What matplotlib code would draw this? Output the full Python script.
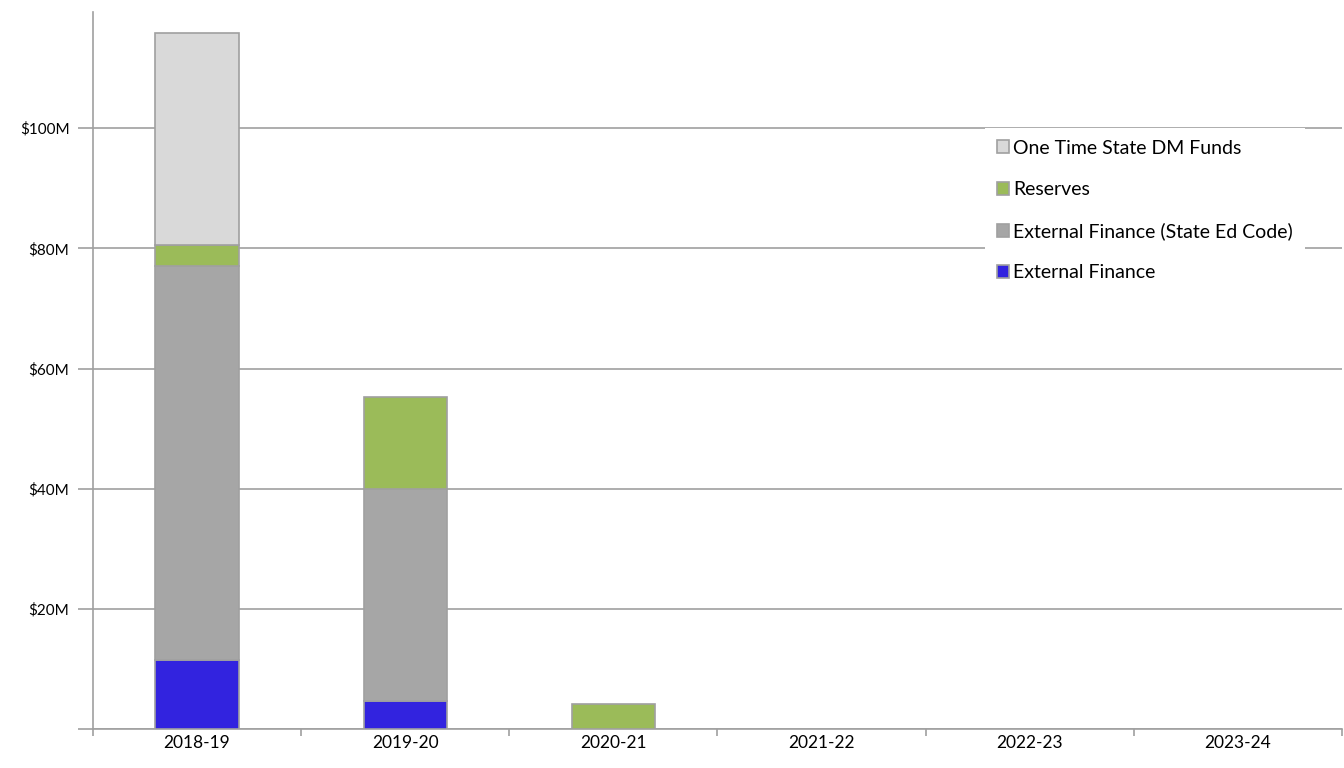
import numpy as np
import matplotlib.pyplot as plt

# datos (millones de dolares)
anos = ["2018-19", "2019-20", "2020-21", "2021-22", "2022-23", "2023-24"]
ext_finance = [11.4, 4.7, 0, 0, 0, 0]
ext_finance_ed = [65.6, 35.3, 0, 0, 0, 0]
reserves = [3.5, 15.2, 4.1, 0, 0, 0]
one_time_dm = [35.3, 0, 0, 0, 0, 0]

series = [
    ("External Finance", ext_finance, "#3223DF"),
    ("External Finance (State Ed Code)", ext_finance_ed, "#A6A6A6"),
    ("Reserves", reserves, "#9BBB59"),
    ("One Time State DM Funds", one_time_dm, "#D9D9D9"),
]

plt.rcParams['font.family'] = ['Lato', 'DejaVu Sans']

fig = plt.figure(figsize=(13.44, 7.68), dpi=100)
ax = fig.add_axes([0.0692, 0.0508, 0.9293, 0.9332])

x = np.arange(len(anos))
base = np.zeros(len(anos))
handles = []
for nombre, vals, color in series:
    vals = np.array(vals, dtype=float)
    mask = vals > 0
    b = ax.bar(x[mask], vals[mask], width=0.4, bottom=base[mask], color=color,
               edgecolor="#A0A0A0", linewidth=1.2, label=nombre, zorder=3)
    handles.append(b)
    base += vals

ax.set_xlim(-0.5, len(anos) - 0.5)
ax.set_ylim(0, 119.3)

ax.set_yticks([0, 20, 40, 60, 80, 100])
ax.set_yticklabels(["", "$20M", "$40M", "$60M", "$80M", "$100M"])
ax.tick_params(axis="y", length=11, width=1.2, color="#A0A0A0", pad=6, labelsize=11)
ax.yaxis.grid(True, color="#A0A0A0", linewidth=1.2, zorder=0)

ax.set_xticks(x)
ax.set_xticklabels(anos)
ax.set_xticks(np.arange(-0.5, len(anos)), minor=True)
ax.tick_params(axis="x", which="major", length=0, pad=4, labelsize=12.5)
ax.tick_params(axis="x", which="minor", length=5, width=1.2, color="#A0A0A0")

for s in ["top", "right"]:
    ax.spines[s].set_visible(False)
for s in ["left", "bottom"]:
    ax.spines[s].set_color("#A0A0A0")
    ax.spines[s].set_linewidth(1.2)
ax.set_axisbelow(True)

leg = ax.legend(handles[::-1], [s[0] for s in series][::-1],
                loc="upper left", bbox_to_anchor=(0.733, 0.60, 0.238, 0.2335),
                bbox_transform=fig.transFigure, mode="expand",
                fontsize=14, frameon=True, facecolor="white", edgecolor="none",
                framealpha=1, fancybox=False, handlelength=0.65, handleheight=0.65,
                handletextpad=0.2, labelspacing=1.25, borderpad=0.6,
                borderaxespad=0)
leg.set_zorder(5)

fig.savefig("out.png", dpi=100)
